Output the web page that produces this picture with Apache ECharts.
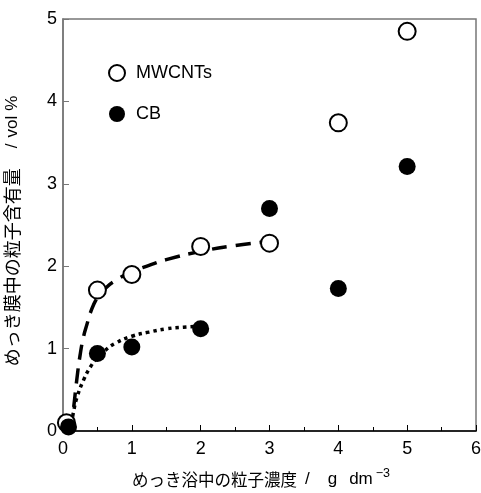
<!DOCTYPE html>
<html><head><meta charset="utf-8">
<script src="https://cdn.jsdelivr.net/npm/echarts@6/dist/echarts.min.js"></script>
<style>html,body{margin:0;padding:0;background:#fff}#c{width:481px;height:493px}</style>
</head><body><div id="c"></div>
<script>
const xTicks = [0, 1, 2, 3, 4, 5, 6];
const yTicks = [0, 1, 2, 3, 4, 5];
const mwcntX = [0.05, 0.5, 1, 2, 3, 4, 5];
const mwcntY = [0.1, 1.71, 1.9, 2.24, 2.28, 3.74, 4.85];
const cbX = [0.08, 0.5, 1, 2, 3, 4, 5];
const cbY = [0.05, 0.94, 1.02, 1.24, 2.7, 1.73, 3.21];
const dashX = [0.11, 0.15, 0.2, 0.25, 0.3, 0.35, 0.4, 0.5, 0.6, 0.75, 1.0, 1.25, 1.5, 2.0, 2.5, 3.0];
const dashY = [0.0, 0.25, 0.62, 0.93, 1.15, 1.3, 1.44, 1.62, 1.72, 1.82, 1.93, 2.01, 2.08, 2.18, 2.25, 2.3];
const dotX = [0.1, 0.15, 0.2, 0.3, 0.4, 0.5, 0.6, 0.75, 1.0, 1.25, 1.5, 1.75, 2.0];
const dotY = [0.0, 0.22, 0.4, 0.62, 0.78, 0.89, 0.97, 1.06, 1.15, 1.2, 1.24, 1.26, 1.27];
const zip = (a, b) => a.map((v, i) => [v, b[i]]);
const F = '"Liberation Sans", Arial, "Noto Sans CJK JP", sans-serif';
const J = '"Noto Sans CJK JP", sans-serif';
const chart = echarts.init(document.getElementById('c'));
chart.setOption({
  animation: false,
  textStyle: {fontFamily: F},
  grid: {left: 63, right: 5, top: 19, bottom: 62, show: true, borderColor: '#777', borderWidth: 1.5,
         containLabel: false, outerBoundsMode: 'none'},
  legend: {
    data: ['MWCNTs', 'CB'], orient: 'vertical', left: 103, top: 59, itemGap: 23,
    itemWidth: 20, itemHeight: 16, padding: 5,
    textStyle: {fontFamily: F, fontSize: 18, color: '#000', padding: [0, 0, 0, 4]}
  },
  xAxis: {
    type: 'value', min: xTicks[0], max: xTicks[xTicks.length - 1], interval: 1,
    name: '{a|めっき浴中の粒子濃度}{b|/}{c|g}{d|dm}{sup|−3}', nameLocation: 'middle', nameGap: 36,
    nameTextStyle: {fontFamily: F, fontSize: 17, color: '#000', rich: {
      a: {fontFamily: J, fontSize: 16.5, color: '#000'},
      b: {fontFamily: F, fontSize: 17, color: '#000', padding: [0, 0, 0, 8]},
      c: {fontFamily: F, fontSize: 17, color: '#000', padding: [0, 0, 0, 18]},
      d: {fontFamily: F, fontSize: 17, color: '#000', padding: [0, 0, 0, 12]},
      sup: {fontFamily: F, fontSize: 12.5, color: '#000', padding: [0, 17, 12, 3]}
    }},
    axisLine: {lineStyle: {color: '#000', width: 1.5}},
    axisTick: {inside: true, length: 6, lineStyle: {color: '#000'}},
    minorTick: {show: true, splitNumber: 2, length: 4, lineStyle: {color: '#000'}},
    axisLabel: {fontSize: 18, color: '#000', margin: 9},
    splitLine: {show: false}
  },
  yAxis: {
    type: 'value', min: yTicks[0], max: yTicks[yTicks.length - 1], interval: 1,
    name: '{a|めっき膜中の粒子含有量}{b|/}{c|vol}{d|%}', nameLocation: 'middle', nameGap: 42, nameRotate: 90,
    nameTextStyle: {fontFamily: F, fontSize: 17, color: '#000', rich: {
      a: {fontFamily: J, fontSize: 18, color: '#000'},
      b: {fontFamily: F, fontSize: 17, color: '#000', padding: [0, 0, 0, 20]},
      c: {fontFamily: F, fontSize: 17, color: '#000', padding: [0, 0, 0, 6]},
      d: {fontFamily: F, fontSize: 17, color: '#000', padding: [0, 12, 0, 5]}
    }},
    axisLine: {lineStyle: {color: '#777', width: 1.5}},
    axisTick: {inside: true, length: 6, lineStyle: {color: '#777'}},
    axisLabel: {fontSize: 18, color: '#000', margin: 6},
    splitLine: {show: false}
  },
  series: [
    {name: 'fitDash', type: 'line', data: zip(dashX, dashY), smooth: true, showSymbol: false, z: 1,
     lineStyle: {color: '#000', width: 3.5, type: [15, 9]}},
    {name: 'fitDot', type: 'line', data: zip(dotX, dotY), smooth: true, showSymbol: false, z: 1,
     lineStyle: {color: '#000', width: 3.5, type: [3.5, 4]}},
    {name: 'MWCNTs', type: 'scatter', data: zip(mwcntX, mwcntY), symbol: 'circle', symbolSize: 17, z: 3,
     itemStyle: {color: '#fff', borderColor: '#000', borderWidth: 2, opacity: 1}},
    {name: 'CB', type: 'scatter', data: zip(cbX, cbY), symbol: 'circle', symbolSize: 17, z: 4,
     itemStyle: {color: '#000', borderColor: '#000', borderWidth: 0, opacity: 1}}
  ]
});
</script></body></html>
